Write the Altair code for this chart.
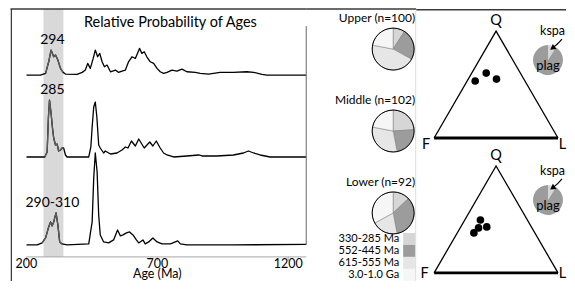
import math
import altair as alt
import pandas as pd

FONT = "Lato"

# ---------------- data ----------------
upper_age = [200, 253, 273, 285, 294, 304, 311, 320, 330, 340, 349, 393, 413, 425, 434, 444, 455, 463, 472, 480,
             489, 498, 508, 521, 540, 552, 565, 578, 590, 603, 616, 632, 641, 650, 660, 673, 686, 699, 711, 724,
             737, 756, 775, 794, 813, 845, 864, 896, 940, 991, 1042, 1068, 1100, 1119, 1269]
upper_p = [0, 0, 1.7, 13.3, 25, 18.3, 20, 15, 6.7, 2.7, 1, 0.7, 2.7, 5, 11.7, 6.7, 16.7, 25, 18.3, 21.7,
           13.3, 8.3, 10, 3.3, 5, 2.7, 4, 5, 13.3, 18.3, 16.7, 26.7, 21.7, 23.3, 18.3, 13.3, 11.7, 6.7, 3.3, 1.7,
           2.7, 5, 4, 6, 3.3, 2.7, 1.7, 1, 2.7, 2.7, 3.3, 2.7, 0.7, 0, 0]

middle_age = [200, 270, 279, 284, 288, 294, 299, 304, 311, 317, 323, 330, 336, 342, 349, 355, 438, 446, 451, 457,
              463, 469, 476, 482, 495, 501, 521, 546, 565, 578, 588, 601, 616, 629, 650, 671, 683, 696, 711, 724,
              737, 762, 813, 858, 871, 928, 991, 1029, 1048, 1068, 1093, 1131, 1269]
middle_p = [0, 0, 5, 40, 57, 44, 30, 19, 12, 13, 6, 7, 9, 9, 2, 0, 0, 10, 30, 50,
            55, 40, 12, 9, 4, 6, 3, 4, 7, 10, 9, 16, 11, 18, 9, 15, 11, 16, 9, 4,
            2, 0, 1, 2, 1, 1, 2, 4, 6, 4, 2, 0, 0]

lower_age = [200, 241, 260, 273, 285, 292, 298, 304, 313, 320, 327, 336, 355, 438, 451, 457, 463, 470, 476, 482,
             495, 514, 533, 548, 559, 569, 582, 594, 607, 620, 629, 645, 654, 667, 683, 699, 718, 750, 778, 788,
             813, 991, 1269]
lower_p = [0, 0, 2, 7, 18, 23, 19, 23, 32, 20, 3, 1, 0, 1, 23, 67, 92, 73, 30, 10,
           3, 2, 5, 15, 9, 10, 12, 13, 10, 5, 2, 5, 1, 3, 7, 3, 1, 1, 4, 1,
           0, 0, 0.5]

band_ages = [265, 341]
peak_labels = ["294", "285", "290-310"]
peak_label_age = [299, 299, 299]
x_ticks = [200, 700, 1200]
x_title = "Age (Ma)"
panel_title = "Relative Probability of Ages"

samples = ["Upper", "Middle", "Lower"]
sample_titles = ["Upper (n=100)", "Middle (n=102)", "Lower (n=92)"]
age_groups = ["330-285 Ma", "552-445 Ma", "615-555 Ma", "3.0-1.0 Ga"]
upper_frac = [0.09, 0.24, 0.45, 0.22]
middle_frac = [0.24, 0.23, 0.31, 0.22]
lower_frac = [0.13, 0.34, 0.20, 0.33]

# QFL compositions (fractions)
top_Q = [0.533, 0.607, 0.551]
top_F = [0.402, 0.276, 0.221]
top_L = [0.065, 0.117, 0.228]
bot_Q = [0.495, 0.430, 0.421, 0.374]
bot_F = [0.379, 0.360, 0.431, 0.492]
bot_L = [0.126, 0.210, 0.148, 0.134]
feldspar_parts = ["kspar", "plag"]
feldspar_labels = ["kspa", "plag"]
feldspar_frac = [0.09, 0.91]

# ---------------- layout / style ----------------
A_W = 296
B_W = 110
C_W = 150
PANEL_H = 272
AXIS_Y = 248          # px from panel top to the age axis
curve_offset = {"Upper": 182, "Middle": 100, "Lower": 12}
group_colors = ["#d6d6d6", "#9c9c9c", "#e6e6e6", "#f6f6f6"]
LINE = "#3a3a3a"

one = pd.DataFrame({"d": [0]})

# ---------------- panel A : probability curves ----------------
rows = []
for name, ages, ps in [("Upper", upper_age, upper_p), ("Middle", middle_age, middle_p), ("Lower", lower_age, lower_p)]:
    for a, p in zip(ages, ps):
        rows.append({"sample": name, "age": a, "p": p, "y": curve_offset[name] + p})
curves = pd.DataFrame(rows)

lab_rows = []
for name, ages, ps, lab, la in zip(samples, [upper_age, middle_age, lower_age], [upper_p, middle_p, lower_p],
                                   peak_labels, peak_label_age):
    peak = max(p for a, p in zip(ages, ps) if band_ages[0] <= a <= band_ages[1])
    lab_rows.append({"age": la, "y": curve_offset[name] + peak + 3, "label": lab})
peak_df = pd.DataFrame(lab_rows)

xA = alt.Scale(domain=[139, 1269], nice=False, zero=False)
yA = alt.Scale(domain=[AXIS_Y - PANEL_H, AXIS_Y], nice=False, zero=False)
XA = lambda f: alt.X(f, scale=xA, axis=None)
YA = lambda f: alt.Y(f, scale=yA, axis=None)

band_layer = alt.Chart(pd.DataFrame({"age": [band_ages[0]], "age_end": [band_ages[1]]})).mark_rect(
    color="#d9d9d9").encode(x=XA("age:Q"), x2="age_end:Q", y=alt.value(0), y2=alt.value(AXIS_Y))
axis_line = alt.Chart(pd.DataFrame({"age": [x_ticks[0]], "age_end": [xA.domain[1]], "y": [0]})).mark_rule(
    color="#a8a8a8", strokeWidth=1).encode(x=XA("age:Q"), x2="age_end:Q", y=YA("y:Q"))
tick_df = pd.DataFrame({"age": x_ticks, "y": [0] * len(x_ticks), "y2": [-4] * len(x_ticks),
                        "ly": [-7] * len(x_ticks), "lab": [str(t) for t in x_ticks]})
ticks = alt.Chart(tick_df).mark_rule(color="#a8a8a8", strokeWidth=1).encode(
    x=XA("age:Q"), y=YA("y:Q"), y2="y2:Q")
tick_labels = alt.Chart(tick_df).mark_text(fontSize=12.5, font=FONT, baseline="middle", color="black").encode(
    x=XA("age:Q"), y=YA("ly:Q"), text="lab:N")
axis_title = alt.Chart(pd.DataFrame({"age": [700], "y": [-21.5], "t": [x_title]})).mark_text(
    fontSize=12.5, font=FONT, baseline="alphabetic", color="black", clip=True).encode(
    x=XA("age:Q"), y=YA("y:Q"), text="t:N")
black_curves = alt.Chart(curves).mark_line(color="black", strokeWidth=1.3, strokeJoin="round").encode(
    x=XA("age:Q"), y=YA("y:Q"), detail="sample:N")
grey_curves = alt.Chart(curves).transform_filter(
    f"datum.age >= {band_ages[0] - 6} && datum.age <= {band_ages[1] + 4}").mark_line(
    color="#5c5c5c", strokeWidth=1.3, strokeJoin="round").encode(
    x=XA("age:Q"), y=YA("y:Q"), detail="sample:N")
peak_text = alt.Chart(peak_df).mark_text(fontSize=14, font=FONT, baseline="bottom", color="black").encode(
    x=XA("age:Q"), y=YA("y:Q"), text="label:N")
titleA = alt.Chart(pd.DataFrame({"t": [panel_title]})).mark_text(
    fontSize=14.5, font=FONT, baseline="middle", color="black").encode(
    x=alt.value(160), y=alt.value(14), text="t:N")
top_border_A = alt.Chart(one).mark_rule(color=LINE, strokeWidth=1.5).encode(
    x=alt.value(0), x2=alt.value(A_W), y=alt.value(0))
left_border = alt.Chart(one).mark_rule(color=LINE, strokeWidth=1.5, clip=True).encode(
    x=alt.value(0.75), y=alt.value(0), y2=alt.value(PANEL_H))
right_line_A = alt.Chart(one).mark_rule(color="#666", strokeWidth=1).encode(
    x=alt.value(A_W), y=alt.value(17), y2=alt.value(236))

panelA = alt.layer(band_layer, axis_line, ticks, tick_labels, axis_title, black_curves, grey_curves,
                   peak_text, titleA, top_border_A, left_border, right_line_A).properties(
    width=A_W, height=PANEL_H)

# ---------------- panel B : pies ----------------
pie_rows = []
for s, fr in zip(samples, [upper_frac, middle_frac, lower_frac]):
    c = 0.0
    tot = sum(fr)
    for g, f in zip(age_groups, fr):
        pie_rows.append({"sample": s, "group": g, "t0": c / tot, "t1": (c + f) / tot})
        c += f
pie_df = pd.DataFrame(pie_rows)
title_df = pd.DataFrame({"sample": samples, "title": sample_titles})
leg_df = pd.DataFrame({"group": age_groups})

yS = alt.Scale(domain=samples, range=[40, 204], padding=0)
yL = alt.Scale(domain=age_groups, range=[230, 266], padding=0)
thetaS = alt.Scale(domain=[0, 1], range=[0, 2 * math.pi])
colS = alt.Scale(domain=age_groups, range=group_colors)

wedges = alt.Chart(pie_df).mark_arc(outerRadius=21, stroke="#777", strokeWidth=0.5).encode(
    theta=alt.Theta("t0:Q", scale=thetaS), theta2="t1:Q",
    x=alt.value(87), y=alt.Y("sample:N", scale=yS, axis=None),
    fill=alt.Fill("group:N", scale=colS, legend=None))
outline = alt.Chart(title_df).mark_arc(outerRadius=21, fillOpacity=0, stroke="black", strokeWidth=1,
                                       theta=0, theta2=2 * math.pi).encode(
    x=alt.value(87), y=alt.Y("sample:N", scale=yS, axis=None))
titles = alt.Chart(title_df).mark_text(align="right", fontSize=12, font=FONT, dy=-31, color="black").encode(
    x=alt.value(109), y=alt.Y("sample:N", scale=yS, axis=None), text="title:N")
leg_text = alt.Chart(leg_df).mark_text(align="right", fontSize=11, font=FONT, color="black").encode(
    x=alt.value(93), y=alt.Y("group:N", scale=yL, axis=None), text="group:N")
leg_sw = alt.Chart(leg_df).mark_square(size=144, opacity=1, strokeWidth=0).encode(
    x=alt.value(103), y=alt.Y("group:N", scale=yL, axis=None),
    fill=alt.Fill("group:N", scale=colS, legend=None))
top_border_B = alt.Chart(one).mark_rule(color=LINE, strokeWidth=1.5).encode(
    x=alt.value(0), x2=alt.value(B_W), y=alt.value(0))
grey_vline = alt.Chart(one).mark_rule(color="#b5b5b5", strokeWidth=1, clip=True).encode(
    x=alt.value(B_W), y=alt.value(2), y2=alt.value(PANEL_H))

panelB = alt.layer(wedges, outline, titles, leg_sw, leg_text, top_border_B, grey_vline).resolve_scale(
    y="independent").properties(width=B_W, height=PANEL_H)

# ---------------- panel C : QFL ternary ----------------
TRI_W = 124
xC = alt.Scale(domain=[-18 / TRI_W, (C_W - 18) / TRI_W], nice=False, zero=False)
vert_df = pd.DataFrame({"v": ["F", "Q", "L"], "Q": [0, 1, 0], "F": [1, 0, 0], "L": [0, 0, 1], "o": [0, 1, 2]})
base_df = pd.DataFrame({"v": ["F", "L"], "Q": [0, 0], "F": [1, 0], "L": [0, 1], "o": [0, 1]})
tern = "datum.L / (datum.Q + datum.F + datum.L) + 0.5 * datum.Q / (datum.Q + datum.F + datum.L)"
ternY = "datum.Q / (datum.Q + datum.F + datum.L)"


def ternary(Q, F, L, y_dom, h, lab_off, pie_c, ksp_xy, arrow_pts, with_top):
    yC = alt.Scale(domain=y_dom, nice=False, zero=False)
    X = lambda f: alt.X(f, scale=xC, axis=None)
    Y = lambda f: alt.Y(f, scale=yC, axis=None)
    sides = alt.Chart(vert_df).transform_calculate(tx=tern, ty=ternY).mark_line(
        color="black", strokeWidth=1.3).encode(x=X("tx:Q"), y=Y("ty:Q"), order="o:Q")
    base = alt.Chart(base_df).transform_calculate(tx=tern, ty=ternY).mark_line(
        color="black", strokeWidth=2.8).encode(x=X("tx:Q"), y=Y("ty:Q"), order="o:Q")
    pts = alt.Chart(pd.DataFrame({"Q": Q, "F": F, "L": L})).transform_calculate(tx=tern, ty=ternY).mark_circle(
        size=58, color="black", opacity=1).encode(x=X("tx:Q"), y=Y("ty:Q"))
    labs = []
    for v, (dx, dy) in zip(["Q", "F", "L"], lab_off):
        labs.append(alt.Chart(vert_df).transform_filter(f"datum.v == '{v}'").transform_calculate(
            tx=tern, ty=ternY).mark_text(fontSize=14.5, font=FONT, dx=dx, dy=dy, color="black").encode(
            x=X("tx:Q"), y=Y("ty:Q"), text="v:N"))
    fs = []
    c = 0.0
    for p, f in zip(feldspar_parts, feldspar_frac):
        fs.append({"part": p, "t0": c, "t1": c + f, "cx": pie_c[0], "cy": pie_c[1]})
        c += f
    fpie = alt.Chart(pd.DataFrame(fs)).mark_arc(outerRadius=15).encode(
        theta=alt.Theta("t0:Q", scale=thetaS), theta2="t1:Q", x=X("cx:Q"), y=Y("cy:Q"),
        fill=alt.Fill("part:N", scale=alt.Scale(domain=feldspar_parts, range=["#8c8c8c", "#d4d4d4"]),
                      legend=None))
    plag = alt.Chart(pd.DataFrame({"cx": [pie_c[0]], "cy": [pie_c[1]], "t": [feldspar_labels[1]]})).mark_text(
        fontSize=13, font=FONT, dy=6, color="black").encode(x=X("cx:Q"), y=Y("cy:Q"), text="t:N")
    ksp = alt.Chart(pd.DataFrame({"cx": [ksp_xy[0]], "cy": [ksp_xy[1]], "t": [feldspar_labels[0]]})).mark_text(
        fontSize=12.5, font=FONT, align="left", color="black").encode(
        x=X("cx:Q"), y=Y("cy:Q"), text="t:N")
    adf = pd.DataFrame({"ax": [a[0] for a in arrow_pts], "ay": [a[1] for a in arrow_pts],
                        "o": list(range(len(arrow_pts)))})
    arrow = alt.Chart(adf).mark_line(color="black", strokeWidth=1.2, interpolate="monotone").encode(
        x=X("ax:Q"), y=Y("ay:Q"), order="o:Q")
    head = alt.Chart(adf.tail(1)).mark_point(shape="triangle-up", filled=True, size=40, angle=235,
                                              color="black", opacity=1).encode(x=X("ax:Q"), y=Y("ay:Q"))
    layers = [sides, base, pts] + labs + [fpie, plag, ksp, arrow, head]
    if with_top:
        layers.append(alt.Chart(one).mark_rule(color=LINE, strokeWidth=1.5, clip=True).encode(
            x=alt.value(0), x2=alt.value(C_W), y=alt.value(0.75)))
    return alt.layer(*layers).properties(width=C_W, height=h)


topC = ternary(top_Q, top_F, top_L, [-0.056, 1.2056], 135,
               [(0, -10), (-8, 7), (4.5, 7)],
               (0.919, 0.729), (0.855, 1.0),
               [(1.032, 0.925), (0.995, 0.879), (0.955, 0.841)], True)
botC = ternary(bot_Q, bot_F, bot_L, [-0.0748, 1.2056], PANEL_H - 135,
               [(0, -10), (-9.5, 1), (4.5, 1)],
               (0.919, 0.682), (0.855, 0.953),
               [(1.032, 0.879), (0.995, 0.832), (0.955, 0.794)], False)
panelC = alt.vconcat(topC, botC, spacing=0, bounds="flush")

chart = alt.hconcat(panelA, panelB, panelC, spacing=0, bounds="flush").configure_view(
    stroke=None).properties(padding={"left": 1.5, "top": 0, "right": 0, "bottom": 0})

chart.save("out.html", embed_options={"renderer": "svg", "actions": False})
